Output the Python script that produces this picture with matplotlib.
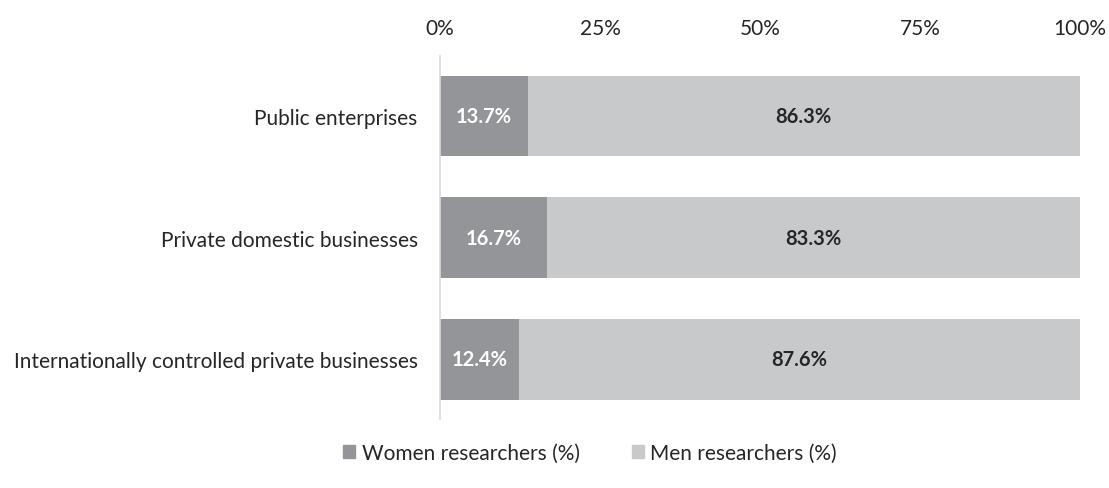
import matplotlib.pyplot as plt
from matplotlib.patches import Patch

plt.rcParams['font.family'] = ['Lato', 'DejaVu Sans']

categories = ['Public enterprises', 'Private domestic businesses',
              'Internationally controlled private businesses']
women = [13.7, 16.7, 12.4]
men = [86.3, 83.3, 87.6]
ticks = [0, 25, 50, 75, 100]

women_color = '#939598'
men_color = '#c8c9cb'

fig = plt.figure(figsize=(11.09, 4.89), dpi=100)
ax = fig.add_axes([0.3967, 0.1411, 0.5771, 0.7423])

y = list(range(len(categories)))
ax.barh(y, women, height=0.66, color=women_color)
ax.barh(y, men, left=women, height=0.66, color=men_color)

for i in y:
    ax.text(women[i] / 2, i, f'{women[i]:.1f}%', ha='center', va='center',
            color='white', fontsize=14.5, fontweight='bold')
    ax.text(women[i] + men[i] / 2, i, f'{men[i]:.1f}%', ha='center', va='center',
            color='#262626', fontsize=14.5, fontweight='bold')

ax.set_xlim(0, 100)
ax.set_ylim(2.49, -0.49)
ax.set_yticks(y)
ax.set_yticklabels(categories, fontsize=15, color='#262626')
ax.set_xticks(ticks)
ax.set_xticklabels([f'{t}%' for t in ticks], fontsize=15, color='#262626')
ax.xaxis.tick_top()
ax.tick_params(axis='both', length=0)
ax.tick_params(axis='x', pad=13)
ax.tick_params(axis='y', pad=16)

for side in ['top', 'right', 'bottom']:
    ax.spines[side].set_visible(False)
ax.spines['left'].set_color('#d9d9d9')
ax.spines['left'].set_linewidth(1.2)

handles = [Patch(color=women_color, label='Women researchers (%)'),
           Patch(color=men_color, label='Men researchers (%)')]
fig.legend(handles=handles, loc='center', bbox_to_anchor=(0.532, 0.072),
           ncol=2, frameon=False, fontsize=15, handlelength=0.6,
           handleheight=0.6, handletextpad=0.3, columnspacing=2.5,
           labelcolor='#262626')

fig.savefig('out.png', dpi=100)
